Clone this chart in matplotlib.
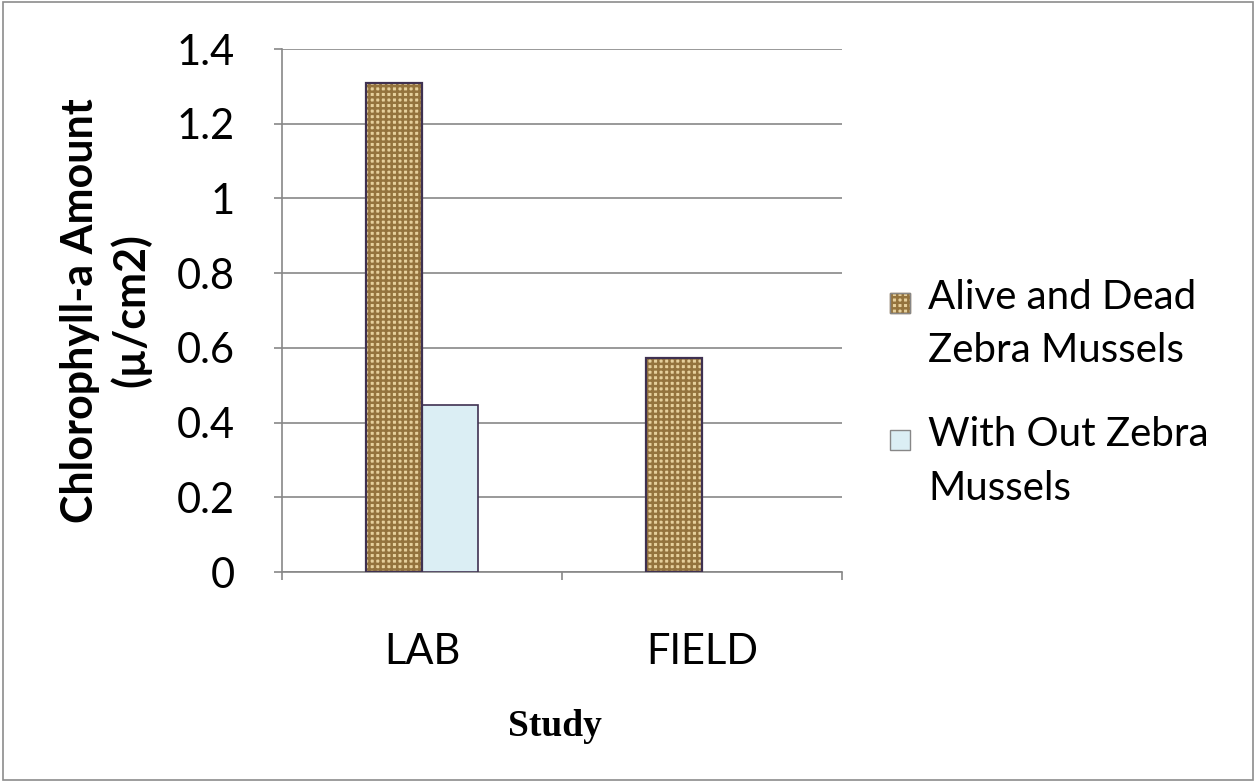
import numpy as np
import matplotlib.pyplot as plt
from matplotlib.patches import Rectangle

# datos
categorias = ['LAB', 'FIELD']
vivos_y_muertos = [1.31, 0.573]
sin_mejillones = [0.447, 0.0]
series = ['Alive and Dead\nZebra Mussels', 'With Out Zebra\nMussels']
yticks = [0, 0.2, 0.4, 0.6, 0.8, 1.0, 1.2, 1.4]
ytick_labels = ['0', '0.2', '0.4', '0.6', '0.8', '1', '1.2', '1.4']

plt.rcParams['font.family'] = ['Lato', 'DejaVu Sans']
plt.rcParams['hatch.linewidth'] = 1.8

fig = plt.figure(figsize=(12.56, 7.82), dpi=100)
ax = fig.add_axes([0.2245, 0.2685, 0.4459, 0.6688])

x = np.arange(len(categorias))
ancho = 0.2
color_borde = '#3f3151'
color_gris = '#878787'
color_tela = '#e6d09c'
color_trama = '#94733d'

# barras con textura tipo arpillera
ax.bar(x - ancho / 2, vivos_y_muertos, ancho, color=color_tela,
       hatch='+++', edgecolor=color_trama, linewidth=0, zorder=3)
ax.bar(x - ancho / 2, vivos_y_muertos, ancho, fill=False,
       edgecolor=color_borde, linewidth=1.6, zorder=4)
ax.bar(x + ancho / 2, sin_mejillones, ancho, color='#dbeef4',
       edgecolor=color_borde, linewidth=[1.2 if v > 0 else 0 for v in sin_mejillones],
       zorder=3)

ax.set_xlim(-0.5, 1.5)
ax.set_ylim(0, 1.4)
ax.set_yticks(yticks)
ax.set_yticklabels(ytick_labels, fontsize=30)
ax.set_xticks(x)
ax.set_xticklabels(categorias, fontsize=30)
ax.set_xticks([-0.5, 0.5, 1.5], minor=True)
ax.tick_params(axis='x', which='major', length=0, pad=44)
ax.tick_params(axis='x', which='minor', length=6, color=color_gris, width=1.2)
ax.tick_params(axis='y', length=6, color=color_gris, width=1.2, pad=28)

ax.yaxis.grid(True, color=color_gris, linewidth=1.2, zorder=0)
ax.set_axisbelow(True)
for lado in ['top', 'right']:
    ax.spines[lado].set_visible(False)
for lado in ['left', 'bottom']:
    ax.spines[lado].set_color(color_gris)
    ax.spines[lado].set_linewidth(1.2)

ax.set_ylabel('Chlorophyll-a Amount\n(µ/cm2)', fontsize=31, fontweight='bold',
              labelpad=18, linespacing=1.3)

fig.text(555 / 1256, 1 - 727 / 782, 'Study', fontsize=27, fontweight='bold',
         family='Liberation Serif', ha='center', va='center')

# leyenda a mano
leyenda_y = [303, 440]
estilos = [dict(facecolor=color_tela, hatch='+++', edgecolor=color_trama),
           dict(facecolor='#dbeef4', edgecolor=color_gris)]
for nombre, yy, est in zip(series, leyenda_y, estilos):
    fig.patches.append(Rectangle((890 / 1256, 1 - (yy + 10) / 782), 20 / 1256, 20 / 782,
                                 transform=fig.transFigure, linewidth=1, **est))
    if 'hatch' in est:
        fig.patches.append(Rectangle((890 / 1256, 1 - (yy + 10) / 782), 20 / 1256, 20 / 782,
                                     transform=fig.transFigure, fill=False,
                                     edgecolor=color_gris, linewidth=1))
    fig.text(928 / 1256, 1 - (yy - 24) / 782, nombre, fontsize=29,
             ha='left', va='top', linespacing=1.55)

# marco exterior
fig.patches.append(Rectangle((0.002, 0.003), 0.996, 0.994, transform=fig.transFigure,
                             fill=False, edgecolor='#8c8c8c', linewidth=1.2))

fig.savefig('out.png', dpi=100)
